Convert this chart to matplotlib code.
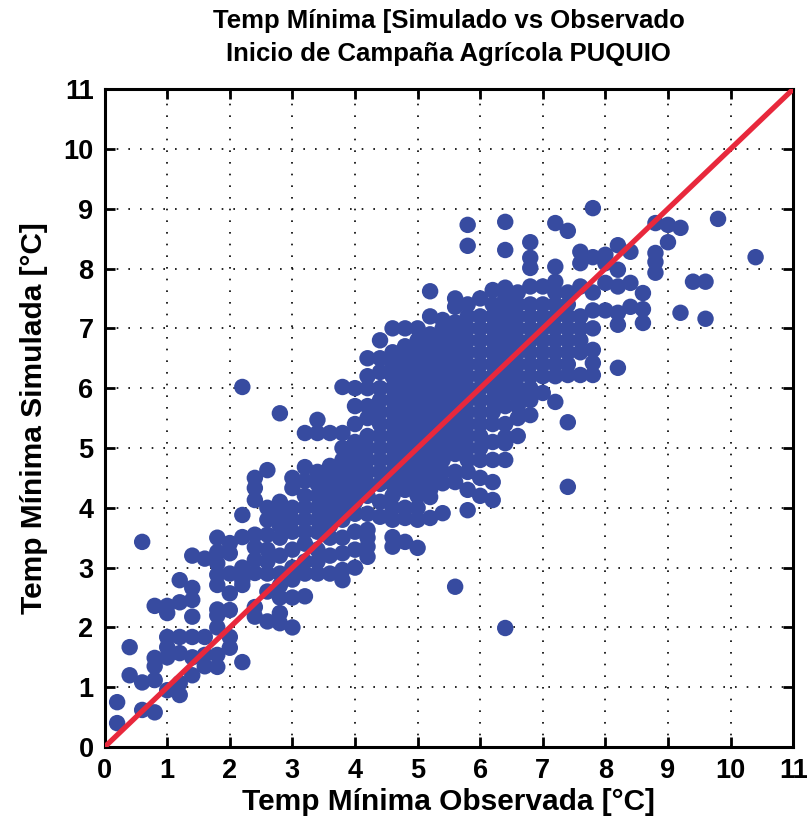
import matplotlib
matplotlib.use("Agg")
import matplotlib.pyplot as plt
import numpy as np

# Observed temperature columns (°C) and simulated values found at each column
obs_cols = [0.2, 0.4, 0.6, 0.8, 1.0, 1.2, 1.4, 1.6, 1.8, 2.0,
            2.2, 2.4, 2.6, 2.8, 3.0, 3.2, 3.4, 3.6, 3.8, 4.0,
            4.2, 4.4, 4.6, 4.8, 5.0, 5.2, 5.4, 5.6, 5.8, 6.0,
            6.2, 6.4, 6.6, 6.8, 7.0, 7.2, 7.4, 7.6, 7.8, 8.0,
            8.2, 8.4, 8.6, 8.8, 9.0, 9.2, 9.4, 9.6, 9.8, 10.4]

sim_cols = [
    [0.4, 0.75],
    [1.2, 1.67],
    [0.62, 1.08, 3.43],
    [0.58, 1.12, 1.35, 1.49, 2.36],
    [0.95, 1.5, 1.67, 1.84, 2.24, 2.36],
    [0.87, 1.07, 1.57, 1.84, 2.42, 2.79],
    [1.2, 1.5, 1.84, 2.18, 2.46, 2.66, 3.2],
    [1.35, 1.54, 1.84, 3.15],
    [1.34, 1.54, 2.0, 2.2, 2.3, 2.71, 2.88, 3.07, 3.26, 3.5],
    [1.66, 1.84, 2.29, 2.57, 2.9, 3.24, 3.41],
    [1.42, 2.71, 2.79, 3.0, 3.51, 3.88, 6.02],
    [2.18, 2.34, 2.91, 3.13, 3.34, 3.55, 4.13, 4.33, 4.5],
    [2.1, 2.6, 2.9, 3.1, 3.3, 3.55, 3.8, 4.0, 4.63],
    [2.07, 2.24, 2.5, 2.7, 2.9, 3.2, 3.5, 3.7, 3.9, 4.1, 5.58],
    [2.0, 2.5, 2.8, 3.0, 3.3, 3.6, 3.8, 4.0, 4.33, 4.5],
    [2.52, 2.9, 3.1, 3.4, 3.6, 3.8, 4.0, 4.2, 4.45, 4.68, 5.25],
    [2.9, 3.1, 3.3, 3.6, 3.8, 4.0, 4.2, 4.4, 4.6, 5.25, 5.47],
    [2.9, 3.2, 3.5, 3.7, 3.9, 4.1, 4.3, 4.5, 4.7, 5.25],
    [2.79, 2.96, 3.24, 3.5, 3.8, 4.0, 4.2, 4.4, 4.6, 4.8, 5.0, 5.25, 6.02],
    [3.0, 3.3, 3.6, 3.9, 4.1, 4.3, 4.5, 4.7, 4.9, 5.1, 5.4, 5.7, 6.0],
    [3.18, 3.35, 3.5, 3.63, 3.9, 4.2, 4.4, 4.6, 4.8, 5.0, 5.2, 5.5, 5.7, 6.0, 6.2, 6.5],
    [3.85, 4.1, 4.4, 4.6, 4.8, 5.0, 5.2, 5.4, 5.6, 5.8, 6.0, 6.27, 6.5, 6.8],
    [3.35, 3.51, 3.8, 4.0, 4.2, 4.4, 4.6, 4.8, 5.0, 5.2, 5.4, 5.6, 5.8, 6.0, 6.2, 6.4, 6.6, 7.0],
    [3.43, 3.83, 4.0, 4.3, 4.5, 4.7, 4.9, 5.1, 5.3, 5.5, 5.7, 5.9, 6.1, 6.3, 6.5, 6.7, 7.0],
    [3.33, 3.8, 4.0, 4.2, 4.4, 4.6, 4.8, 5.0, 5.2, 5.4, 5.6, 5.8, 6.0, 6.2, 6.4, 6.6, 6.8, 7.0],
    [3.83, 4.18, 4.3, 4.5, 4.7, 4.9, 5.1, 5.3, 5.5, 5.7, 5.9, 6.1, 6.3, 6.5, 6.7, 6.9, 7.2, 7.62],
    [3.91, 4.41, 4.6, 4.8, 5.0, 5.2, 5.4, 5.6, 5.8, 6.0, 6.2, 6.4, 6.6, 6.8, 7.0, 7.14],
    [2.68, 4.43, 4.6, 4.9, 5.1, 5.3, 5.5, 5.7, 5.9, 6.1, 6.3, 6.5, 6.7, 6.9, 7.1, 7.36, 7.5],
    [3.96, 4.3, 4.6, 4.8, 5.0, 5.2, 5.4, 5.6, 5.8, 6.0, 6.2, 6.4, 6.6, 6.8, 7.0, 7.2, 7.4, 8.38, 8.73],
    [4.2, 4.5, 4.8, 5.0, 5.2, 5.4, 5.6, 5.8, 6.0, 6.2, 6.4, 6.6, 6.8, 7.0, 7.2, 7.5],
    [4.13, 4.43, 4.8, 5.1, 5.4, 5.6, 5.8, 6.0, 6.2, 6.4, 6.6, 6.8, 7.0, 7.2, 7.4, 7.64],
    [1.99, 4.8, 5.08, 5.18, 5.4, 5.7, 5.9, 6.1, 6.3, 6.5, 6.7, 6.9, 7.1, 7.3, 7.5, 7.68, 8.31, 8.78],
    [5.2, 5.5, 5.7, 5.85, 6.0, 6.2, 6.4, 6.6, 6.8, 7.0, 7.2, 7.4, 7.6],
    [5.55, 5.8, 6.0, 6.2, 6.4, 6.6, 6.8, 7.0, 7.2, 7.4, 7.7, 8.01, 8.18, 8.44],
    [5.92, 6.2, 6.4, 6.6, 6.8, 7.0, 7.2, 7.4, 7.7],
    [5.77, 6.2, 6.4, 6.6, 6.8, 7.0, 7.2, 7.4, 7.6, 7.78, 8.03, 8.76],
    [4.35, 5.43, 6.22, 6.4, 6.6, 6.8, 7.0, 7.2, 7.4, 7.6, 8.63],
    [6.22, 6.6, 6.8, 7.0, 7.2, 7.7, 8.09, 8.28],
    [6.22, 6.42, 6.64, 7.0, 7.3, 7.6, 8.19, 9.01],
    [7.3, 7.76, 8.09, 8.23],
    [6.34, 7.06, 7.26, 7.7, 7.98, 8.39],
    [7.36, 7.76, 8.28],
    [7.09, 7.32, 7.59],
    [7.93, 8.11, 8.26, 8.76],
    [8.44, 8.73],
    [7.26, 8.68],
    [7.78],
    [7.16, 7.78],
    [8.83],
    [8.19],
]

obs = np.concatenate([[x] * len(ys) for x, ys in zip(obs_cols, sim_cols)])
sim = np.concatenate(sim_cols)

ticks = list(range(0, 12))
line_ends = [0, 11]

plt.rcParams['font.family'] = ['Liberation Sans', 'DejaVu Sans']

fig = plt.figure(figsize=(8.11, 8.25), dpi=100)
ax = fig.add_axes([0.129, 0.0945, 0.849, 0.7975])

ax.scatter(obs, sim, s=140, color='#374BA0', edgecolors='none', zorder=3)
ax.plot(line_ends, line_ends, color='#E8283C', lw=3.8, zorder=4, solid_capstyle='butt')

ax.set_xlim(0, 11)
ax.set_ylim(0, 11)
ax.set_xticks(ticks)
ax.set_yticks(ticks)
ax.grid(True, color='black', linestyle=(0, (1, 6)), linewidth=1.2, zorder=1)
ax.set_axisbelow(True)
ax.tick_params(direction='in', length=7, width=2, top=True, right=True,
               labelsize=19.5, pad=8)
for lab in ax.get_xticklabels() + ax.get_yticklabels():
    lab.set_fontweight('bold')
for sp in ax.spines.values():
    sp.set_linewidth(2.2)

ax.set_xlabel('Temp Mínima Observada [°C]', fontsize=21.5, fontweight='bold', labelpad=3)
ax.set_ylabel('Temp Mínima Simulada [°C]', fontsize=21.5, fontweight='bold', labelpad=11)
ax.set_title('Temp Mínima [Simulado vs Observado\nInicio de Campaña Agrícola PUQUIO',
             fontsize=18.5, fontweight='bold', pad=20, linespacing=1.5)

fig.savefig('out.png', dpi=100)
